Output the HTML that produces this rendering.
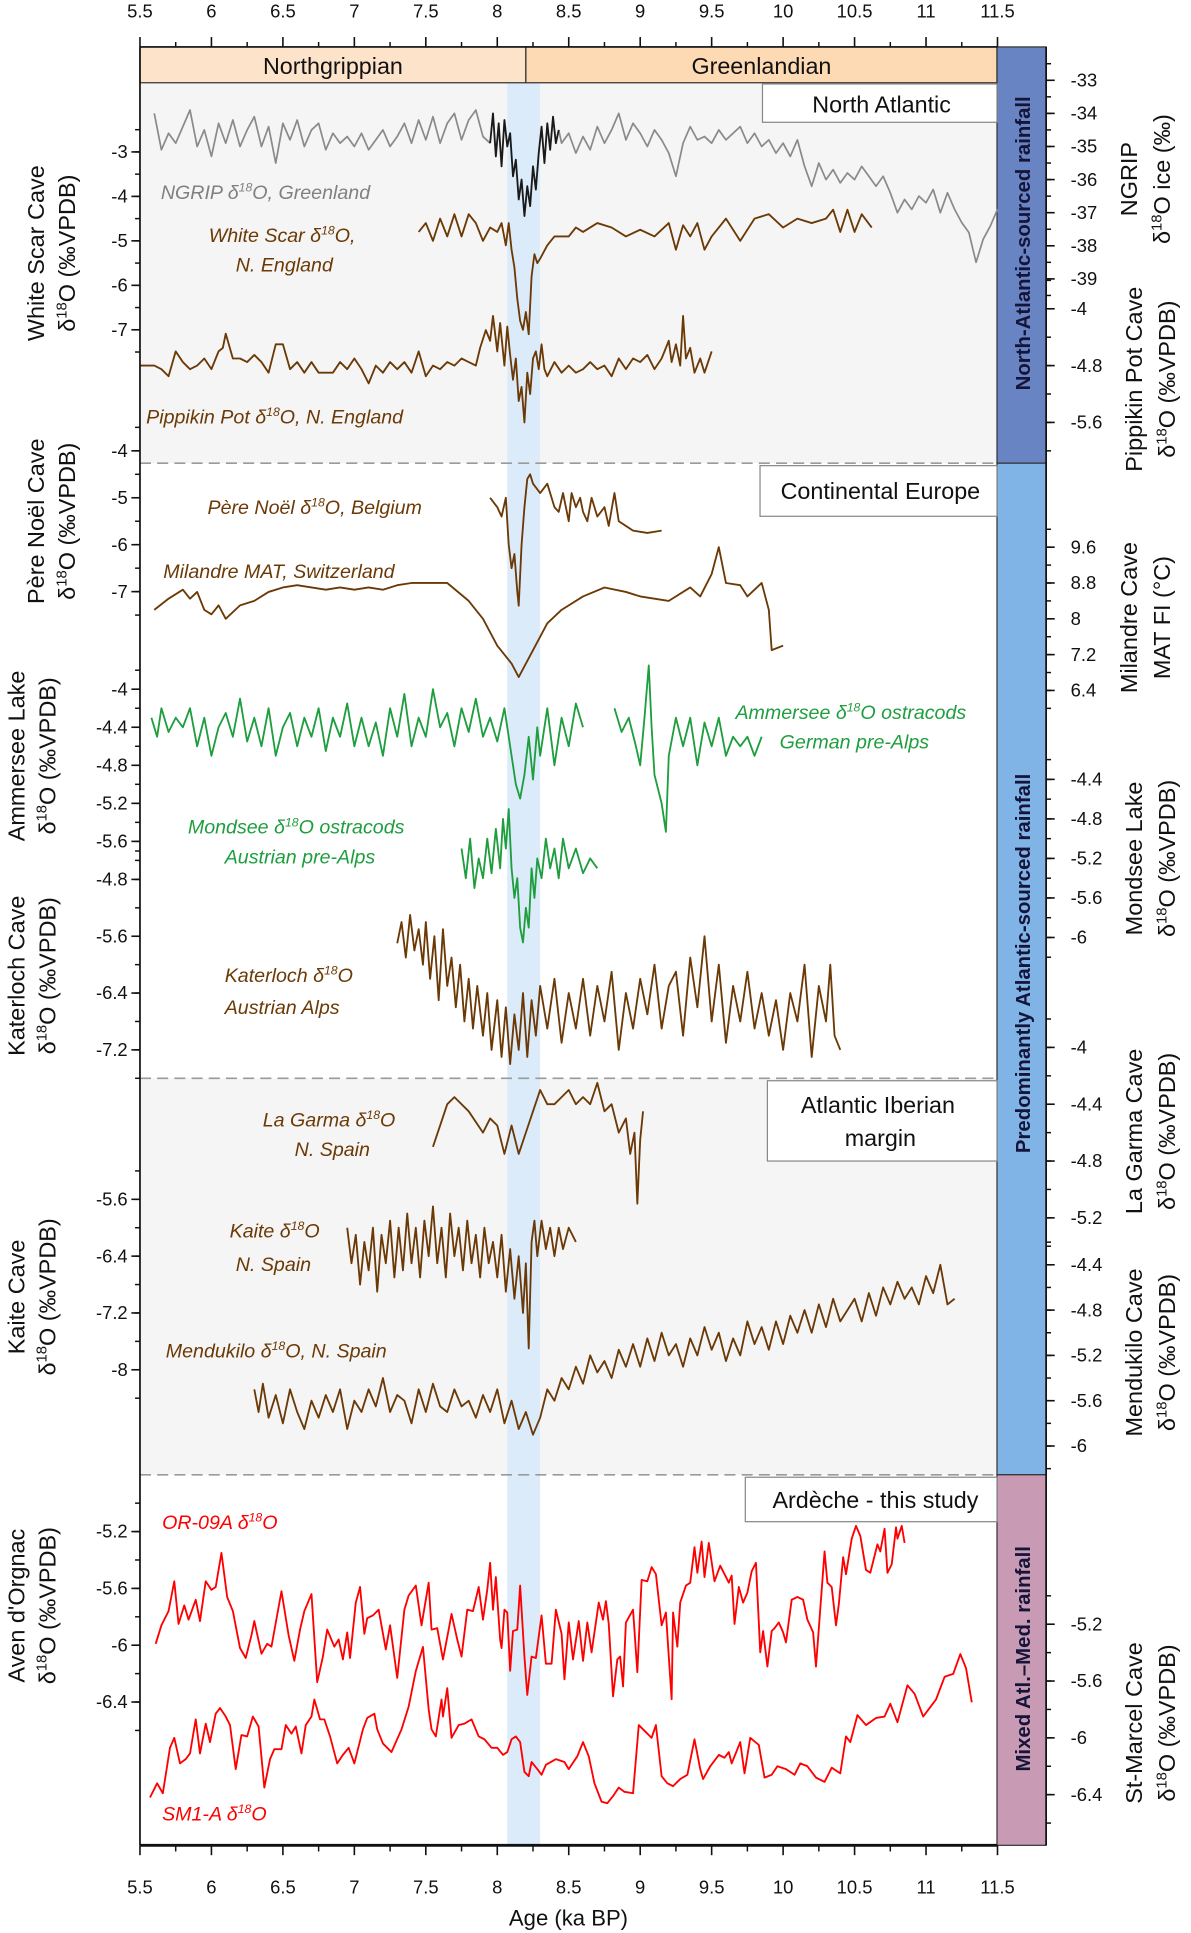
<!DOCTYPE html>
<html><head><meta charset="utf-8"><title>Holocene proxy records</title>
<style>
html,body{margin:0;padding:0;background:#fff;}
svg{display:block;font-family:"Liberation Sans","DejaVu Sans",sans-serif;}
</style></head>
<body>
<svg id="chart" width="1191" height="1933" viewBox="0 0 970 1565" preserveAspectRatio="none" xmlns="http://www.w3.org/2000/svg">
<rect x="114" y="67" width="698" height="308" fill="#f5f5f5"/>
<rect x="114" y="375" width="698" height="498" fill="#ffffff"/>
<rect x="114" y="873" width="698" height="321" fill="#f5f5f5"/>
<rect x="114" y="1194" width="698" height="300" fill="#ffffff"/>
<rect id="band" y="67" height="1427" fill="#dcebf9"/>
<rect id="pNorth" y="38" height="29" fill="#fde3ca" stroke="#333" stroke-width="1"/>
<rect id="pGreen" y="38" height="29" fill="#fdd9b4" stroke="#333" stroke-width="1"/>
<text id="tNorth" y="60" font-size="19" text-anchor="middle" fill="#111">Northgrippian</text>
<text id="tGreen" y="60" font-size="19" text-anchor="middle" fill="#111">Greenlandian</text>
<line x1="114" x2="812" y1="375" y2="375" stroke="#9a9a9a" stroke-dasharray="9,5" stroke-width="1.3"/>
<line x1="114" x2="812" y1="873" y2="873" stroke="#9a9a9a" stroke-dasharray="9,5" stroke-width="1.3"/>
<line x1="114" x2="812" y1="1194" y2="1194" stroke="#9a9a9a" stroke-dasharray="9,5" stroke-width="1.3"/>
<rect x="812" y="38" width="40" height="337" fill="#6884c3" stroke="#333" stroke-width="1"/>
<rect x="812" y="375" width="40" height="819" fill="#80b3e6" stroke="#333" stroke-width="1"/>
<rect x="812" y="1194" width="40" height="300" fill="#c99ab4" stroke="#333" stroke-width="1"/>
<text transform="translate(839,197) rotate(-90)" text-anchor="middle" font-size="16.5" font-weight="bold" fill="#15153a">North-Atlantic-sourced rainfall</text>
<text transform="translate(839,780) rotate(-90)" text-anchor="middle" font-size="16.5" font-weight="bold" fill="#15153a">Predominantly Atlantic-sourced rainfall</text>
<text transform="translate(839,1343) rotate(-90)" text-anchor="middle" font-size="16.5" font-weight="bold" fill="#15153a">Mixed Atl.–Med. rainfall</text>
<g id="marks"></g>
<rect x="621" y="68" width="191" height="31" fill="#fff" stroke="#888"/>
<text x="718" y="91" font-size="19" text-anchor="middle" fill="#111">North Atlantic</text>
<rect x="619" y="377" width="193" height="41" fill="#fff" stroke="#888"/>
<text x="717" y="404" font-size="19" text-anchor="middle" fill="#111">Continental Europe</text>
<rect x="625" y="875" width="187" height="65" fill="#fff" stroke="#888"/>
<text x="715" y="901" font-size="19" text-anchor="middle" fill="#111">Atlantic Iberian</text>
<text x="717" y="928" font-size="19" text-anchor="middle" fill="#111">margin</text>
<rect x="607" y="1196" width="205" height="36" fill="#fff" stroke="#888"/>
<text x="713" y="1221" font-size="19" text-anchor="middle" fill="#111">Ardèche - this study</text>
<g id="axes"></g>
<g font-style="italic" font-size="16">
<text x="131" y="161" fill="#808080">NGRIP δ<tspan font-size="10" dy="-6">18</tspan><tspan dy="6">O, Greenland</tspan></text>
<text x="170" y="196" fill="#6b3906">White Scar δ<tspan font-size="10" dy="-6">18</tspan><tspan dy="6">O,</tspan></text>
<text x="192" y="220" fill="#6b3906">N. England</text>
<text x="119" y="343" fill="#6b3906">Pippikin Pot δ<tspan font-size="10" dy="-6">18</tspan><tspan dy="6">O, N. England</tspan></text>
<text x="169" y="416" fill="#6b3906">Père Noël δ<tspan font-size="10" dy="-6">18</tspan><tspan dy="6">O, Belgium</tspan></text>
<text x="133" y="468" fill="#6b3906">Milandre MAT, Switzerland</text>
<text x="599" y="582" fill="#1e9e3e">Ammersee δ<tspan font-size="10" dy="-6">18</tspan><tspan dy="6">O ostracods</tspan></text>
<text x="635" y="606" fill="#1e9e3e">German pre-Alps</text>
<text x="153" y="675" fill="#1e9e3e">Mondsee  δ<tspan font-size="10" dy="-6">18</tspan><tspan dy="6">O ostracods</tspan></text>
<text x="183" y="699" fill="#1e9e3e">Austrian pre-Alps</text>
<text x="183" y="795" fill="#6b3906">Katerloch δ<tspan font-size="10" dy="-6">18</tspan><tspan dy="6">O</tspan></text>
<text x="183" y="821" fill="#6b3906">Austrian Alps</text>
<text x="214" y="912" fill="#6b3906">La Garma δ<tspan font-size="10" dy="-6">18</tspan><tspan dy="6">O</tspan></text>
<text x="240" y="936" fill="#6b3906">N. Spain</text>
<text x="187" y="1002" fill="#6b3906">Kaite δ<tspan font-size="10" dy="-6">18</tspan><tspan dy="6">O</tspan></text>
<text x="192" y="1029" fill="#6b3906">N. Spain</text>
<text x="135" y="1099" fill="#6b3906">Mendukilo δ<tspan font-size="10" dy="-6">18</tspan><tspan dy="6">O, N. Spain</tspan></text>
<text x="132" y="1238" fill="#ff0000">OR-09A δ<tspan font-size="10" dy="-6">18</tspan><tspan dy="6">O</tspan></text>
<text x="132" y="1474" fill="#ff0000">SM1-A δ<tspan font-size="10" dy="-6">18</tspan><tspan dy="6">O</tspan></text>
</g>
<text x="463" y="1559" font-size="18" text-anchor="middle" fill="#111">Age (ka BP)</text>
</svg>
<script>
// ---------- data ----------
const xTicks = [5.5,6,6.5,7,7.5,8,8.5,9,9.5,10,10.5,11,11.5];
const eventStart = 8.07, eventEnd = 8.30, periodBoundary = 8.2;

const ngripAges = [5.60,5.65,5.70,5.75,5.80,5.85,5.90,5.95,6.00,6.05,6.10,6.15,6.20,6.25,6.30,6.35,6.40,6.45,6.50,6.55,6.60,6.65,6.70,6.75,6.80,6.85,6.90,6.95,7.00,7.05,7.10,7.15,7.20,7.25,7.30,7.35,7.40,7.45,7.50,7.55,7.60,7.65,7.70,7.75,7.80,7.85,7.90,7.95];
const ngripVals = [-34.0,-35.1,-34.6,-34.9,-34.4,-33.9,-35.0,-34.5,-35.3,-34.3,-34.9,-34.2,-35.0,-34.5,-34.1,-35.0,-34.4,-35.5,-34.3,-34.8,-34.2,-35.0,-34.5,-34.3,-35.1,-34.6,-34.9,-34.7,-35.0,-34.6,-35.1,-34.8,-34.5,-35.0,-34.7,-34.3,-34.9,-34.2,-34.8,-34.1,-34.9,-34.3,-34.0,-34.8,-34.2,-33.9,-34.7,-34.9];
const ngripEventAges = [7.95,7.97,7.99,8.01,8.03,8.05,8.07,8.09,8.11,8.13,8.15,8.17,8.19,8.21,8.23,8.25,8.27,8.29,8.31,8.33,8.35,8.37,8.39,8.41,8.43];
const ngripEventVals = [-34.9,-34.0,-35.3,-34.3,-35.6,-34.2,-35.0,-34.6,-35.9,-35.4,-36.6,-36.0,-37.1,-36.2,-36.8,-35.6,-36.3,-35.2,-34.4,-35.5,-34.3,-35.1,-34.1,-34.9,-34.5];
const ngripLateAges = [8.43,8.45,8.50,8.55,8.60,8.65,8.70,8.75,8.80,8.85,8.90,8.95,9.00,9.05,9.10,9.15,9.20,9.25,9.30,9.35,9.40,9.45,9.50,9.55,9.60,9.65,9.70,9.75,9.80,9.85,9.90,9.95,10.00,10.05,10.10,10.15,10.20,10.25,10.30,10.35,10.40,10.45,10.50,10.55,10.60,10.65,10.70,10.75,10.80,10.85,10.90,10.95,11.00,11.05,11.10,11.15,11.20,11.25,11.30,11.35,11.40,11.45,11.50];
const ngripLateVals = [-34.5,-34.9,-34.6,-35.2,-34.7,-35.1,-34.4,-34.9,-34.5,-34.0,-34.8,-34.3,-34.6,-35.0,-34.5,-34.8,-35.2,-35.9,-34.9,-34.4,-34.8,-34.7,-34.9,-34.5,-34.8,-34.6,-34.4,-34.9,-34.6,-35.0,-34.8,-35.2,-34.9,-35.3,-34.8,-35.6,-36.2,-35.5,-36.0,-35.7,-36.1,-35.8,-36.0,-35.6,-35.9,-36.2,-35.9,-36.4,-37.0,-36.6,-36.9,-36.5,-36.7,-36.3,-37.0,-36.4,-36.9,-37.3,-37.6,-38.5,-37.8,-37.4,-36.9];

const whiteScarAges = [7.45,7.5,7.55,7.6,7.65,7.7,7.75,7.8,7.85,7.9,7.95,8.0,8.03,8.06,8.08,8.1,8.12,8.14,8.16,8.18,8.2,8.22,8.24,8.26,8.28,8.3,8.35,8.4,8.5,8.55,8.6,8.7,8.8,8.9,9.0,9.1,9.2,9.25,9.3,9.35,9.4,9.45,9.5,9.6,9.7,9.8,9.9,10.0,10.1,10.2,10.3,10.35,10.4,10.45,10.5,10.55,10.62];
const whiteScarVals = [-4.8,-4.6,-5.0,-4.5,-4.9,-4.4,-4.9,-4.4,-4.6,-5.0,-4.7,-4.8,-4.6,-5.1,-4.6,-5.2,-5.6,-6.3,-6.8,-7.0,-6.6,-7.1,-5.8,-5.3,-5.5,-5.4,-5.1,-4.9,-4.9,-4.7,-4.8,-4.6,-4.7,-4.9,-4.75,-4.9,-4.6,-5.2,-4.65,-4.9,-4.6,-5.2,-4.9,-4.5,-5.0,-4.5,-4.4,-4.7,-4.5,-4.6,-4.5,-4.3,-4.8,-4.3,-4.8,-4.4,-4.7];

const pippikinAges = [5.5,5.6,5.65,5.7,5.75,5.8,5.85,5.9,5.95,6.0,6.05,6.08,6.1,6.15,6.2,6.25,6.3,6.35,6.4,6.45,6.5,6.55,6.6,6.65,6.7,6.75,6.8,6.85,6.9,6.95,7.0,7.05,7.1,7.15,7.2,7.25,7.3,7.35,7.4,7.45,7.5,7.55,7.6,7.65,7.7,7.75,7.8,7.85,7.88,7.92,7.95,7.97,8.0,8.02,8.05,8.07,8.09,8.11,8.13,8.15,8.17,8.19,8.21,8.23,8.25,8.27,8.29,8.31,8.33,8.35,8.4,8.45,8.5,8.55,8.6,8.65,8.7,8.75,8.8,8.85,8.9,8.95,9.0,9.05,9.1,9.15,9.2,9.22,9.25,9.28,9.3,9.32,9.35,9.38,9.42,9.45,9.5];
const pippikinVals = [-4.8,-4.8,-4.85,-4.95,-4.6,-4.75,-4.85,-4.8,-4.7,-4.85,-4.6,-4.55,-4.35,-4.7,-4.7,-4.75,-4.65,-4.75,-4.9,-4.5,-4.5,-4.85,-4.75,-4.9,-4.75,-4.9,-4.9,-4.9,-4.75,-4.85,-4.7,-4.85,-5.05,-4.8,-4.9,-4.75,-4.85,-4.75,-4.9,-4.6,-4.95,-4.8,-4.85,-4.75,-4.8,-4.7,-4.75,-4.8,-4.55,-4.3,-4.45,-4.1,-4.6,-4.2,-4.8,-4.25,-4.65,-5.0,-4.7,-5.3,-5.1,-5.6,-4.9,-5.2,-4.7,-4.6,-4.85,-4.5,-4.85,-4.95,-4.75,-4.9,-4.8,-4.9,-4.85,-4.75,-4.85,-4.8,-4.95,-4.7,-4.85,-4.7,-4.75,-4.65,-4.85,-4.7,-4.45,-4.75,-4.5,-4.8,-4.1,-4.7,-4.55,-4.9,-4.7,-4.9,-4.6];

const pereNoelAges = [7.95,8.0,8.03,8.06,8.08,8.1,8.12,8.14,8.15,8.17,8.19,8.21,8.23,8.25,8.3,8.35,8.4,8.43,8.46,8.5,8.52,8.55,8.58,8.6,8.63,8.66,8.7,8.75,8.78,8.82,8.85,8.9,8.95,9.05,9.15];
const pereNoelVals = [-5.0,-5.2,-5.4,-5.0,-6.0,-6.5,-6.2,-7.0,-7.3,-6.0,-5.2,-4.6,-4.5,-4.7,-4.9,-4.7,-5.2,-5.3,-4.9,-5.5,-4.9,-5.2,-5.0,-5.3,-5.5,-5.0,-5.4,-5.2,-5.6,-4.9,-5.5,-5.6,-5.7,-5.75,-5.7];

const milandreAges = [5.6,5.7,5.8,5.85,5.9,5.95,6.0,6.05,6.1,6.2,6.3,6.4,6.5,6.6,6.7,6.8,6.9,7.0,7.1,7.2,7.3,7.4,7.5,7.65,7.8,7.9,8.0,8.1,8.15,8.25,8.35,8.45,8.6,8.75,8.9,9.0,9.1,9.2,9.35,9.42,9.5,9.55,9.6,9.7,9.75,9.85,9.9,9.92,10.0];
const milandreVals = [8.2,8.45,8.65,8.45,8.6,8.2,8.1,8.3,8.0,8.3,8.4,8.6,8.7,8.75,8.7,8.65,8.7,8.65,8.7,8.65,8.75,8.8,8.8,8.8,8.4,8.0,7.4,7.0,6.7,7.3,7.9,8.2,8.5,8.7,8.6,8.5,8.45,8.4,8.7,8.5,9.0,9.6,8.8,8.75,8.5,8.8,8.2,7.3,7.4];

const ammerseeAges = [5.58,5.62,5.65,5.7,5.75,5.8,5.85,5.9,5.95,6.0,6.05,6.1,6.15,6.2,6.25,6.3,6.35,6.4,6.45,6.5,6.55,6.6,6.65,6.7,6.75,6.8,6.85,6.9,6.95,7.0,7.05,7.1,7.15,7.2,7.25,7.3,7.35,7.4,7.45,7.5,7.55,7.6,7.65,7.7,7.75,7.8,7.85,7.9,7.95,8.0,8.05,8.1,8.13,8.16,8.19,8.22,8.25,8.28,8.3,8.35,8.4,8.45,8.5,8.55,8.6];
const ammerseeVals = [-4.3,-4.5,-4.2,-4.45,-4.3,-4.4,-4.2,-4.6,-4.3,-4.7,-4.4,-4.25,-4.5,-4.1,-4.55,-4.3,-4.6,-4.2,-4.7,-4.4,-4.25,-4.6,-4.3,-4.5,-4.2,-4.65,-4.3,-4.5,-4.15,-4.6,-4.3,-4.6,-4.35,-4.7,-4.2,-4.5,-4.05,-4.6,-4.3,-4.5,-4.0,-4.4,-4.25,-4.6,-4.2,-4.45,-4.1,-4.5,-4.3,-4.55,-4.2,-4.7,-5.0,-5.15,-4.9,-4.5,-4.95,-4.4,-4.7,-4.2,-4.8,-4.3,-4.6,-4.15,-4.4];
const ammersee2Ages = [8.82,8.87,8.92,8.97,9.0,9.03,9.06,9.08,9.1,9.15,9.18,9.2,9.25,9.3,9.35,9.4,9.45,9.5,9.55,9.6,9.65,9.7,9.75,9.8,9.85];
const ammersee2Vals = [-4.2,-4.45,-4.3,-4.6,-4.8,-4.3,-3.75,-4.4,-4.9,-5.2,-5.5,-4.7,-4.3,-4.6,-4.3,-4.8,-4.35,-4.6,-4.3,-4.7,-4.5,-4.6,-4.5,-4.7,-4.5];

const mondseeAges = [7.75,7.78,7.81,7.84,7.87,7.9,7.93,7.96,7.99,8.02,8.04,8.06,8.08,8.1,8.12,8.14,8.16,8.18,8.2,8.22,8.24,8.26,8.28,8.31,8.34,8.37,8.4,8.43,8.46,8.5,8.55,8.6,8.65,8.7];
const mondseeVals = [-5.1,-5.4,-5.0,-5.5,-5.2,-5.4,-5.0,-5.35,-4.9,-5.3,-4.8,-5.1,-4.7,-5.3,-5.6,-5.4,-5.9,-6.05,-5.7,-5.9,-5.3,-5.6,-5.2,-5.4,-5.0,-5.3,-5.1,-5.4,-5.0,-5.3,-5.1,-5.35,-5.2,-5.3];

const katerlochAges = [7.3,7.33,7.36,7.39,7.42,7.45,7.48,7.5,7.53,7.56,7.59,7.62,7.65,7.68,7.71,7.74,7.77,7.8,7.83,7.86,7.9,7.93,7.96,8.0,8.03,8.06,8.09,8.12,8.15,8.18,8.21,8.24,8.27,8.3,8.35,8.4,8.45,8.5,8.55,8.6,8.65,8.7,8.75,8.8,8.85,8.9,8.95,9.0,9.05,9.1,9.15,9.2,9.25,9.3,9.35,9.4,9.45,9.5,9.55,9.6,9.65,9.7,9.75,9.8,9.85,9.9,9.95,10.0,10.05,10.1,10.15,10.2,10.25,10.3,10.33,10.36,10.4];
const katerlochVals = [-5.7,-5.4,-5.9,-5.3,-5.8,-5.5,-6.0,-5.4,-6.2,-5.6,-6.5,-5.5,-6.3,-5.9,-6.6,-6.0,-6.8,-6.2,-6.9,-6.3,-7.0,-6.4,-7.2,-6.5,-7.3,-6.6,-7.4,-6.7,-7.2,-6.4,-7.3,-6.5,-7.0,-6.3,-6.9,-6.2,-7.1,-6.4,-6.9,-6.2,-7.0,-6.3,-6.8,-6.1,-7.2,-6.4,-6.9,-6.2,-6.7,-6.0,-6.9,-6.3,-6.1,-7.0,-5.9,-6.6,-5.6,-6.8,-6.0,-7.1,-6.3,-6.8,-6.1,-6.9,-6.4,-7.0,-6.5,-7.2,-6.4,-6.8,-6.0,-7.3,-6.3,-6.8,-6.0,-7.0,-7.2];

const laGarmaAges = [7.55,7.6,7.65,7.7,7.8,7.9,7.95,8.0,8.05,8.1,8.15,8.2,8.25,8.3,8.35,8.4,8.45,8.5,8.55,8.6,8.65,8.7,8.75,8.8,8.85,8.9,8.93,8.96,8.98,9.0,9.02];
const laGarmaVals = [-4.7,-4.55,-4.4,-4.35,-4.45,-4.6,-4.5,-4.55,-4.75,-4.55,-4.75,-4.6,-4.45,-4.3,-4.4,-4.4,-4.35,-4.3,-4.4,-4.35,-4.4,-4.25,-4.45,-4.4,-4.6,-4.5,-4.75,-4.6,-5.1,-4.65,-4.45];

const kaiteAges = [6.95,6.98,7.01,7.04,7.07,7.1,7.13,7.16,7.19,7.22,7.25,7.28,7.31,7.34,7.37,7.4,7.43,7.46,7.49,7.52,7.55,7.58,7.61,7.64,7.67,7.7,7.73,7.76,7.79,7.82,7.85,7.88,7.91,7.94,7.97,8.0,8.03,8.06,8.09,8.12,8.15,8.18,8.2,8.22,8.24,8.26,8.28,8.31,8.34,8.37,8.4,8.43,8.46,8.5,8.55];
const kaiteVals = [-6.0,-6.5,-6.1,-6.8,-6.2,-6.6,-6.0,-6.9,-6.1,-6.5,-5.9,-6.7,-6.0,-6.6,-5.8,-6.5,-6.0,-6.7,-5.9,-6.4,-5.7,-6.5,-6.0,-6.7,-5.8,-6.4,-6.0,-6.6,-5.9,-6.5,-6.1,-6.7,-6.0,-6.5,-6.2,-6.7,-6.1,-6.9,-6.3,-7.0,-6.4,-7.2,-6.5,-7.7,-6.2,-5.9,-6.4,-5.9,-6.3,-6.0,-6.4,-6.0,-6.3,-6.0,-6.2];

const mendukiloAges = [6.3,6.33,6.36,6.4,6.45,6.5,6.55,6.6,6.65,6.7,6.75,6.8,6.85,6.9,6.95,7.0,7.05,7.1,7.15,7.2,7.25,7.3,7.35,7.4,7.45,7.5,7.55,7.6,7.65,7.7,7.75,7.8,7.85,7.9,7.95,8.0,8.05,8.1,8.15,8.2,8.25,8.3,8.35,8.4,8.45,8.5,8.55,8.6,8.65,8.7,8.75,8.8,8.85,8.9,8.95,9.0,9.05,9.1,9.15,9.2,9.25,9.3,9.35,9.4,9.45,9.5,9.55,9.6,9.65,9.7,9.75,9.8,9.85,9.9,9.95,10.0,10.05,10.1,10.15,10.2,10.25,10.3,10.35,10.4,10.45,10.5,10.55,10.6,10.65,10.7,10.75,10.8,10.85,10.9,10.95,11.0,11.05,11.1,11.15,11.2];
const mendukiloVals = [-5.5,-5.7,-5.45,-5.75,-5.55,-5.8,-5.5,-5.7,-5.85,-5.6,-5.75,-5.55,-5.7,-5.5,-5.85,-5.6,-5.7,-5.5,-5.65,-5.4,-5.7,-5.55,-5.6,-5.8,-5.5,-5.7,-5.45,-5.65,-5.7,-5.5,-5.65,-5.6,-5.75,-5.55,-5.7,-5.5,-5.8,-5.6,-5.85,-5.7,-5.9,-5.75,-5.5,-5.6,-5.4,-5.5,-5.3,-5.45,-5.2,-5.35,-5.25,-5.4,-5.15,-5.3,-5.1,-5.3,-5.05,-5.25,-5.0,-5.2,-5.1,-5.3,-5.05,-5.2,-4.95,-5.15,-5.0,-5.25,-5.05,-5.2,-4.9,-5.1,-4.95,-5.15,-4.9,-5.1,-4.85,-5.0,-4.8,-5.0,-4.75,-4.95,-4.7,-4.9,-4.8,-4.7,-4.9,-4.65,-4.85,-4.6,-4.75,-4.55,-4.7,-4.6,-4.75,-4.5,-4.65,-4.4,-4.75,-4.7];

const or09aAges = [5.61,5.65,5.70,5.74,5.77,5.81,5.84,5.89,5.92,5.96,6.00,6.03,6.07,6.11,6.15,6.20,6.24,6.28,6.30,6.35,6.39,6.42,6.49,6.54,6.58,6.62,6.65,6.70,6.74,6.78,6.81,6.86,6.89,6.92,6.95,6.97,7.01,7.04,7.07,7.09,7.13,7.17,7.22,7.25,7.30,7.35,7.38,7.43,7.47,7.52,7.54,7.58,7.62,7.66,7.68,7.72,7.75,7.79,7.83,7.87,7.90,7.93,7.95,7.97,7.99,8.02,8.03,8.05,8.07,8.09,8.11,8.14,8.16,8.19,8.21,8.24,8.27,8.31,8.34,8.38,8.41,8.45,8.47,8.50,8.53,8.57,8.60,8.63,8.66,8.71,8.74,8.76,8.78,8.81,8.84,8.86,8.88,8.90,8.95,8.98,9.01,9.05,9.08,9.11,9.15,9.18,9.20,9.22,9.23,9.26,9.28,9.32,9.35,9.38,9.40,9.43,9.45,9.48,9.52,9.56,9.59,9.62,9.64,9.66,9.69,9.72,9.75,9.78,9.81,9.84,9.86,9.89,9.92,9.94,9.97,10.00,10.02,10.06,10.10,10.14,10.17,10.21,10.23,10.29,10.31,10.34,10.37,10.39,10.42,10.44,10.48,10.51,10.54,10.58,10.61,10.66,10.68,10.71,10.73,10.76,10.79,10.80,10.83,10.85];
const or09aVals = [-5.99,-5.86,-5.76,-5.55,-5.85,-5.72,-5.82,-5.68,-5.83,-5.55,-5.61,-5.59,-5.35,-5.66,-5.76,-6.02,-6.09,-5.93,-5.83,-6.06,-5.99,-6.01,-5.62,-5.93,-6.11,-5.89,-5.76,-5.64,-6.26,-6.08,-5.89,-6.01,-5.96,-6.10,-5.91,-6.09,-5.70,-5.59,-5.92,-5.81,-5.79,-5.75,-6.03,-5.86,-6.23,-5.75,-5.65,-5.58,-5.86,-5.56,-5.89,-5.88,-6.10,-5.89,-5.78,-5.96,-6.08,-5.75,-5.76,-5.59,-5.82,-5.61,-5.42,-5.75,-5.52,-5.96,-6.02,-5.75,-5.77,-6.18,-5.90,-5.89,-5.58,-6.08,-6.35,-6.08,-6.09,-5.79,-6.13,-6.13,-5.75,-5.92,-6.24,-5.84,-6.10,-5.83,-6.11,-5.84,-6.05,-5.70,-5.82,-5.69,-5.85,-6.36,-6.10,-6.08,-6.29,-5.84,-5.75,-6.19,-5.54,-5.55,-5.45,-5.50,-5.86,-5.77,-6.08,-6.38,-5.77,-6.01,-5.70,-5.58,-5.56,-5.31,-5.49,-5.27,-5.52,-5.28,-5.55,-5.44,-5.50,-5.56,-5.51,-5.85,-5.59,-5.70,-5.63,-5.48,-5.42,-6.05,-5.90,-6.15,-5.90,-5.88,-5.84,-5.91,-5.98,-5.68,-5.66,-5.68,-5.82,-5.91,-6.15,-5.34,-5.56,-5.59,-5.86,-5.71,-5.38,-5.50,-5.25,-5.16,-5.23,-5.47,-5.49,-5.29,-5.34,-5.18,-5.49,-5.43,-5.17,-5.25,-5.16,-5.28];

const sm1aAges = [5.57,5.62,5.66,5.71,5.74,5.78,5.82,5.85,5.89,5.92,5.96,5.99,6.03,6.06,6.10,6.13,6.17,6.21,6.25,6.29,6.33,6.37,6.41,6.44,6.49,6.52,6.56,6.59,6.63,6.66,6.70,6.72,6.76,6.79,6.83,6.88,6.92,6.96,7.00,7.06,7.09,7.14,7.16,7.20,7.26,7.33,7.38,7.43,7.48,7.52,7.54,7.57,7.61,7.62,7.65,7.68,7.73,7.77,7.82,7.87,7.91,7.96,8.00,8.04,8.07,8.10,8.13,8.16,8.19,8.22,8.24,8.28,8.31,8.34,8.41,8.47,8.50,8.56,8.60,8.64,8.68,8.73,8.77,8.81,8.85,8.89,8.95,8.99,9.04,9.08,9.11,9.15,9.19,9.23,9.28,9.33,9.38,9.42,9.44,9.49,9.55,9.59,9.62,9.64,9.70,9.73,9.77,9.83,9.87,9.92,9.96,10.02,10.08,10.12,10.17,10.23,10.29,10.34,10.40,10.44,10.47,10.52,10.58,10.65,10.71,10.75,10.80,10.87,10.92,10.98,11.07,11.13,11.19,11.24,11.28,11.32];
const sm1aVals = [-6.42,-6.32,-6.39,-6.07,-6.00,-6.18,-6.15,-6.11,-5.87,-6.11,-5.90,-6.03,-5.83,-5.79,-5.85,-5.91,-6.22,-5.98,-5.99,-5.85,-5.92,-6.35,-6.15,-6.08,-6.08,-5.91,-5.97,-5.92,-6.11,-5.91,-5.85,-5.73,-5.87,-5.87,-5.99,-6.18,-6.12,-6.07,-6.18,-5.94,-5.86,-5.83,-5.94,-6.04,-6.10,-5.94,-5.78,-5.53,-5.36,-5.80,-5.94,-5.99,-5.73,-5.85,-5.65,-6.00,-5.91,-5.90,-5.87,-5.99,-6.01,-6.07,-6.07,-6.12,-6.10,-6.01,-5.99,-6.03,-6.24,-6.27,-6.17,-6.22,-6.26,-6.19,-6.15,-6.17,-6.22,-6.13,-6.03,-6.13,-6.32,-6.45,-6.46,-6.41,-6.35,-6.38,-6.39,-5.91,-5.96,-6.00,-5.91,-6.27,-6.32,-6.34,-6.29,-6.26,-6.01,-6.22,-6.29,-6.20,-6.12,-6.14,-6.10,-6.18,-6.03,-6.25,-6.00,-6.05,-6.28,-6.26,-6.20,-6.22,-6.26,-6.18,-6.20,-6.28,-6.31,-6.21,-6.25,-5.99,-6.03,-5.84,-5.91,-5.86,-5.85,-5.76,-5.89,-5.63,-5.69,-5.85,-5.73,-5.57,-5.55,-5.41,-5.51,-5.75];

const wsTicks = [-3,-4,-5,-6,-7];
const pnTicks = [-4,-5,-6,-7];
const amTicks = [-4,-4.4,-4.8,-5.2,-5.6];
const klTicks = [-4.8,-5.6,-6.4,-7.2];
const kaTicks = [-5.6,-6.4,-7.2,-8];
const orTicks = [-5.2,-5.6,-6,-6.4];
const ngTicks = [-33,-34,-35,-36,-37,-38,-39];
const ppTicks = [-4,-4.8,-5.6];
const miTicks = [9.6,8.8,8,7.2,6.4];
const moTicks = [-4.4,-4.8,-5.2,-5.6,-6];
const lgTicks = [-4,-4.4,-4.8,-5.2];
const meTicks = [-4.4,-4.8,-5.2,-5.6,-6];
const smTicks = [-5.2,-5.6,-6,-6.4];

// ---------- scales ----------
const NS = "http://www.w3.org/2000/svg";
const LEFT = 114, RIGHT = 852, TOP = 38, BOTTOM = 1494;
function xs(a){ return LEFT + (a - 5.5) * 116.4; }
function lin(v0, y0, per){ return function(v){ return y0 + (v0 - v) * per; }; }
const yWS = lin(-3,123,36), yPN = lin(-4,365,38), yAM = lin(-4,558,77), yKL = lin(-4.8,712,57.5),
      yKA = lin(-5.6,971,57.5), yOR = lin(-5.2,1240,115), yNG = lin(-33,65,26.8), yPP = lin(-4,250,57.5),
      yMI = lin(9.6,443,36.25), yMO = lin(-4.4,631,80), yLG = lin(-4,848,115), yME = lin(-4.4,1024,91.7),
      ySM = lin(-5.2,1315,115);

const marks = document.getElementById('marks');
const axes = document.getElementById('axes');

const band = document.getElementById('band');
band.setAttribute('x', xs(eventStart));
band.setAttribute('width', xs(eventEnd) - xs(eventStart));
const pN = document.getElementById('pNorth');
pN.setAttribute('x', xs(5.5)); pN.setAttribute('width', xs(periodBoundary) - xs(5.5));
const pG = document.getElementById('pGreen');
pG.setAttribute('x', xs(periodBoundary)); pG.setAttribute('width', 812 - xs(periodBoundary));
document.getElementById('tNorth').setAttribute('x', (xs(5.5) + xs(periodBoundary)) / 2);
document.getElementById('tGreen').setAttribute('x', (xs(periodBoundary) + 812) / 2);

function drawLine(ages, vals, yf, color, w, name){
  let d = '';
  for (let i = 0; i < ages.length; i++) {
    d += (i ? 'L' : 'M') + xs(ages[i]).toFixed(2) + ',' + yf(vals[i]).toFixed(2);
  }
  const p = document.createElementNS(NS, 'path');
  p.setAttribute('d', d);
  p.setAttribute('fill', 'none');
  p.setAttribute('stroke', color);
  p.setAttribute('stroke-width', w);
  p.setAttribute('stroke-linejoin', 'round');
  
  
  marks.appendChild(p);
}
const BROWN = '#6b3906', GREEN = '#1e9e3e', RED = '#ff0000';
drawLine(ngripAges, ngripVals, yNG, '#8a8a8a', 1.4, 'ngrip-line');
drawLine(ngripLateAges, ngripLateVals, yNG, '#8a8a8a', 1.4, 'ngrip-line-late');
drawLine(ngripEventAges, ngripEventVals, yNG, '#1a1a1a', 1.5, 'ngrip-event-line');
drawLine(whiteScarAges, whiteScarVals, yWS, BROWN, 1.5, 'white-scar-line');
drawLine(pippikinAges, pippikinVals, yPP, BROWN, 1.5, 'pippikin-line');
drawLine(pereNoelAges, pereNoelVals, yPN, BROWN, 1.5, 'pere-noel-line');
drawLine(milandreAges, milandreVals, yMI, BROWN, 1.5, 'milandre-line');
drawLine(ammerseeAges, ammerseeVals, yAM, GREEN, 1.5, 'ammersee-line');
drawLine(ammersee2Ages, ammersee2Vals, yAM, GREEN, 1.5, 'ammersee-line-2');
drawLine(mondseeAges, mondseeVals, yMO, GREEN, 1.5, 'mondsee-line');
drawLine(katerlochAges, katerlochVals, yKL, BROWN, 1.5, 'katerloch-line');
drawLine(laGarmaAges, laGarmaVals, yLG, BROWN, 1.5, 'la-garma-line');
drawLine(kaiteAges, kaiteVals, yKA, BROWN, 1.5, 'kaite-line');
drawLine(mendukiloAges, mendukiloVals, yME, BROWN, 1.5, 'mendukilo-line');
drawLine(or09aAges, or09aVals, yOR, RED, 1.5, 'or09a-line');
drawLine(sm1aAges, sm1aVals, ySM, RED, 1.5, 'sm1a-line');

function ln(x1,y1,x2,y2,w,name){
  const l = document.createElementNS(NS, 'line');
  l.setAttribute('x1', x1); l.setAttribute('y1', y1); l.setAttribute('x2', x2); l.setAttribute('y2', y2);
  l.setAttribute('stroke', '#111'); l.setAttribute('stroke-width', w);
  
  
  axes.appendChild(l);
}
function tx(x,y,s,anchor,size,name){
  const t = document.createElementNS(NS, 'text');
  t.setAttribute('x', x); t.setAttribute('y', y);
  t.setAttribute('text-anchor', anchor); t.setAttribute('font-size', size); t.setAttribute('fill', '#111');
  t.textContent = s;
  
  
  axes.appendChild(t);
  return t;
}
ln(LEFT, TOP, LEFT, BOTTOM, 1.4, 'left-axis-line');
ln(RIGHT, TOP, RIGHT, BOTTOM, 1.4, 'right-axis-line');
ln(LEFT, TOP, 812, TOP, 1.4, 'top-axis-line');
ln(LEFT, BOTTOM, 812, BOTTOM, 2.4, 'bottom-axis-line');
xTicks.forEach(function(a, i){
  const x = xs(a);
  ln(x, TOP, x, TOP - 8, 1.3, 'top-x-tick');
  ln(x, BOTTOM, x, BOTTOM + 8, 1.3, 'bottom-x-tick');
  tx(x, 14, String(a), 'middle', 15, 'top-x-tick-label');
  tx(x, 1533, String(a), 'middle', 15, 'bottom-x-tick-label');
  if (i < xTicks.length - 1) {
    ln(xs(a + 0.25), TOP, xs(a + 0.25), TOP - 4, 1.2, 'top-x-minor-tick');
    ln(xs(a + 0.25), BOTTOM, xs(a + 0.25), BOTTOM + 5, 1.2, 'bottom-x-minor-tick');
  }
});
function yAxis(ticks, yf, side, name){
  const step = Math.abs(ticks[1] - ticks[0]) / 2;
  const lo = Math.min.apply(null, ticks) - step, hi = Math.max.apply(null, ticks) + step;
  for (let v = lo; v <= hi + 1e-9; v += step) {
    const y = yf(v);
    if (side === 'left') ln(LEFT, y, LEFT - 4, y, 1.2, name + '-minor-tick');
    else ln(RIGHT, y, RIGHT + 4, y, 1.2, name + '-minor-tick');
  }
  ticks.forEach(function(v){
    const y = yf(v);
    if (side === 'left') { ln(LEFT, y, LEFT - 7, y, 1.3, name + '-tick'); tx(LEFT - 10, y + 5, String(v), 'end', 15, name + '-tick-label'); }
    else { ln(RIGHT, y, RIGHT + 7, y, 1.3, name + '-tick'); tx(RIGHT + 20, y + 5, String(v), 'start', 15, name + '-tick-label'); }
  });
}
yAxis(wsTicks, yWS, 'left', 'white-scar-axis');
yAxis(pnTicks, yPN, 'left', 'pere-noel-axis');
yAxis(amTicks, yAM, 'left', 'ammersee-axis');
yAxis(klTicks, yKL, 'left', 'katerloch-axis');
yAxis(kaTicks, yKA, 'left', 'kaite-axis');
yAxis(orTicks, yOR, 'left', 'orgnac-axis');
yAxis(ngTicks, yNG, 'right', 'ngrip-axis');
yAxis(ppTicks, yPP, 'right', 'pippikin-axis');
yAxis(miTicks, yMI, 'right', 'milandre-axis');
yAxis(moTicks, yMO, 'right', 'mondsee-axis');
yAxis(lgTicks, yLG, 'right', 'la-garma-axis');
yAxis(meTicks, yME, 'right', 'mendukilo-axis');
yAxis(smTicks, ySM, 'right', 'st-marcel-axis');

function title(x, y, line1, line2, name, x2){
  const t1 = document.createElementNS(NS, 'text');
  t1.setAttribute('transform', 'translate(' + x + ',' + y + ') rotate(-90)');
  t1.setAttribute('text-anchor', 'middle'); t1.setAttribute('font-size', '19'); t1.setAttribute('fill', '#111');
  t1.textContent = line1;
  
  
  axes.appendChild(t1);
  const t2 = document.createElementNS(NS, 'text');
  t2.setAttribute('transform', 'translate(' + x2 + ',' + y + ') rotate(-90)');
  t2.setAttribute('text-anchor', 'middle'); t2.setAttribute('font-size', '19'); t2.setAttribute('fill', '#111');
  t2.innerHTML = line2;
  
  
  axes.appendChild(t2);
}
const D18 = 'δ<tspan font-size="12" dy="-7">18</tspan><tspan dy="7">O (‰VPDB)</tspan>';
title(36, 205, 'White Scar Cave', D18, 'white-scar-axis-title', 61);
title(36, 422, 'Père Noël Cave', D18, 'pere-noel-axis-title', 61);
title(20, 612, 'Ammersee Lake', D18, 'ammersee-axis-title', 45);
title(20, 790, 'Katerloch Cave', D18, 'katerloch-axis-title', 45);
title(20, 1050, 'Kaite Cave', D18, 'kaite-axis-title', 45);
title(20, 1300, "Aven d'Orgnac", D18, 'orgnac-axis-title', 45);
title(926, 145, 'NGRIP', 'δ<tspan font-size="12" dy="-7">18</tspan><tspan dy="7">O ice (‰)</tspan>', 'ngrip-axis-title', 953);
title(930, 307, 'Pippikin Pot Cave', D18, 'pippikin-axis-title', 957);
title(926, 500, 'Milandre Cave', 'MAT FI (°C)', 'milandre-axis-title', 953);
title(930, 695, 'Mondsee Lake', D18, 'mondsee-axis-title', 957);
title(930, 916, 'La Garma Cave', D18, 'la-garma-axis-title', 957);
title(930, 1095, 'Mendukilo Cave', D18, 'mendukilo-axis-title', 957);
title(930, 1395, 'St-Marcel Cave', D18, 'st-marcel-axis-title', 957);
</script>
</body></html>
